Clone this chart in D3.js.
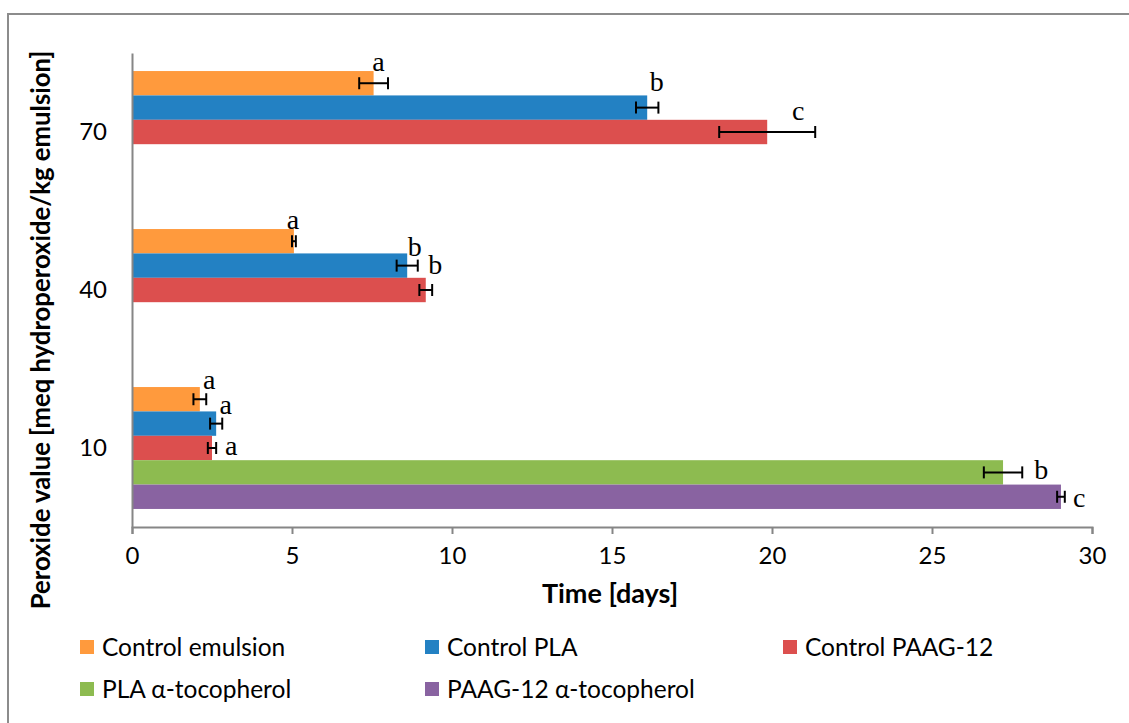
<!DOCTYPE html>
<html>
<head>
<meta charset="utf-8">
<script src="https://cdn.jsdelivr.net/npm/d3@7"></script>
<style>
  html, body { margin: 0; padding: 0; background: #fff; }
  svg { display: block; }
</style>
</head>
<body>
<svg id="chart" width="1129" height="723"></svg>
<script>
// ---- data ----
const categories = ["70", "40", "10"];
const seriesNames = ["Control emulsion", "Control PLA", "Control PAAG-12", "PLA α-tocopherol", "PAAG-12 α-tocopherol"];
const seriesColors = ["#FF9A3D", "#2381C3", "#DC4F4E", "#8DBB50", "#8963A1"];
const controlEmulsion = [7.55, 5.06, 2.12];
const controlEmulsionErr = [0.45, 0.06, 0.2];
const controlPLA = [16.1, 8.6, 2.63];
const controlPLAErr = [0.35, 0.33, 0.19];
const controlPAAG = [19.85, 9.18, 2.5];
const controlPAAGErr = [1.5, 0.2, 0.13];
const plaToco = [null, null, 27.22];
const plaTocoErr = [null, null, 0.6];
const paagToco = [null, null, 29.03];
const paagTocoErr = [null, null, 0.12];
const letters70 = ["a", "b", "c"];
const letters40 = ["a", "b", "b"];
const letters10 = ["a", "a", "a", "b", "c"];
const xTicks = [0, 5, 10, 15, 20, 25, 30];
const xTitle = "Time [days]";
const yTitle = "Peroxide value [meq hydroperoxide/kg emulsion]";

// ---- layout constants ----
const valuesBySeries = [controlEmulsion, controlPLA, controlPAAG, plaToco, paagToco];
const errBySeries = [controlEmulsionErr, controlPLAErr, controlPAAGErr, plaTocoErr, paagTocoErr];
const lettersByCat = [letters70, letters40, letters10];
// label nudges (px) relative to error-bar end / bar centre
const labelNudge = [
  [[-9.6, -12], [-1.7, -17], [-17, -12]],
  [[-2.8, -12], [-3, -10], [3, -16.5]],
  [[3, -10], [3.4, -10], [15, 6.5], [19, 6.3], [14.5, 10.4]]
];

const svg = d3.select("#chart");
const plot = { left: 132, right: 1092, top: 53, bottom: 527 };

// outer frame
svg.append("path")
  .attr("d", `M8,723 L8,14 L1129,14`)
  .attr("fill", "none").attr("stroke", "#8c8c8c").attr("stroke-width", 2);

const x = d3.scaleLinear().domain([0, 30]).range([plot.left, plot.right]);
const y = d3.scaleBand().domain(categories).range([plot.top, plot.bottom]).padding(0);
const ySub = d3.scaleBand().domain(d3.range(seriesNames.length))
  .range([0, y.bandwidth()]).paddingInner(0).paddingOuter(0.74);

// bars
const barData = [];
categories.forEach((c, ci) => {
  valuesBySeries.forEach((vals, si) => {
    if (vals[ci] != null) {
      barData.push({ cat: c, ci, si, v: vals[ci], e: errBySeries[si][ci] });
    }
  });
});

svg.append("g").selectAll("rect").data(barData).join("rect")
  .attr("x", x(0))
  .attr("y", d => y(d.cat) + ySub(d.si))
  .attr("width", d => x(d.v) - x(0))
  .attr("height", ySub.bandwidth())
  .attr("fill", d => seriesColors[d.si]);

// error bars
const eg = svg.append("g").attr("stroke", "#000").attr("stroke-width", 2);
barData.forEach(d => {
  const cy = y(d.cat) + ySub(d.si) + ySub.bandwidth() / 2;
  const x1 = x(d.v - d.e), x2 = x(d.v + d.e);
  eg.append("line").attr("x1", x1).attr("x2", x2).attr("y1", cy).attr("y2", cy);
  eg.append("line").attr("x1", x1).attr("x2", x1).attr("y1", cy - 6).attr("y2", cy + 6);
  eg.append("line").attr("x1", x2).attr("x2", x2).attr("y1", cy - 6).attr("y2", cy + 6);
});

// letters
const lg = svg.append("g").attr("font-family", "'Liberation Serif', serif")
  .attr("font-size", 28).attr("fill", "#000").attr("text-anchor", "middle");
barData.forEach(d => {
  const cy = y(d.cat) + ySub(d.si) + ySub.bandwidth() / 2;
  const ex = x(d.v + d.e);
  const n = labelNudge[d.ci][d.si];
  lg.append("text").attr("x", ex + n[0]).attr("y", cy + n[1]).text(lettersByCat[d.ci][d.si]);
});

// axes
const xAxis = d3.axisBottom(x).tickValues(xTicks).tickSize(7).tickPadding(13).tickFormat(d3.format("d"));
const gx = svg.append("g").attr("transform", `translate(0,${plot.bottom})`).call(xAxis);
gx.select(".domain").attr("stroke", "#868686").attr("stroke-width", 2);
gx.selectAll(".tick line").attr("stroke", "#868686").attr("stroke-width", 2);
gx.selectAll(".tick text").attr("font-family", "Lato, sans-serif").attr("font-size", 24).attr("fill", "#000");

const yAxis = d3.axisLeft(y).tickSize(0).tickPadding(25);
const gy = svg.append("g").attr("transform", `translate(${plot.left},0)`).call(yAxis);
gy.select(".domain").attr("stroke", "#868686").attr("stroke-width", 2);
gy.selectAll(".tick text").attr("font-family", "Lato, sans-serif").attr("font-size", 24).attr("fill", "#000");

// axis titles
svg.append("text").attr("x", 610).attr("y", 603).attr("text-anchor", "middle")
  .attr("font-family", "Lato, sans-serif").attr("font-weight", "bold").attr("font-size", 27)
  .text(xTitle);
svg.append("text").attr("transform", `translate(50,330) rotate(-90)`).attr("text-anchor", "middle")
  .attr("font-family", "Lato, sans-serif").attr("font-weight", "bold").attr("font-size", 25.7)
  .text(yTitle);

// legend
const legendPos = [[80, 647], [425, 647], [783, 647], [80, 689], [425, 689]];
const leg = svg.append("g");
seriesNames.forEach((name, i) => {
  const [lx, ly] = legendPos[i];
  leg.append("rect").attr("x", lx).attr("y", ly - 7).attr("width", 14).attr("height", 14).attr("fill", seriesColors[i]);
  leg.append("text").attr("x", lx + 22).attr("y", ly + 8.5)
    .attr("font-family", "Lato, sans-serif").attr("font-size", 24.5).attr("fill", "#000").text(name);
});
</script>
</body>
</html>
